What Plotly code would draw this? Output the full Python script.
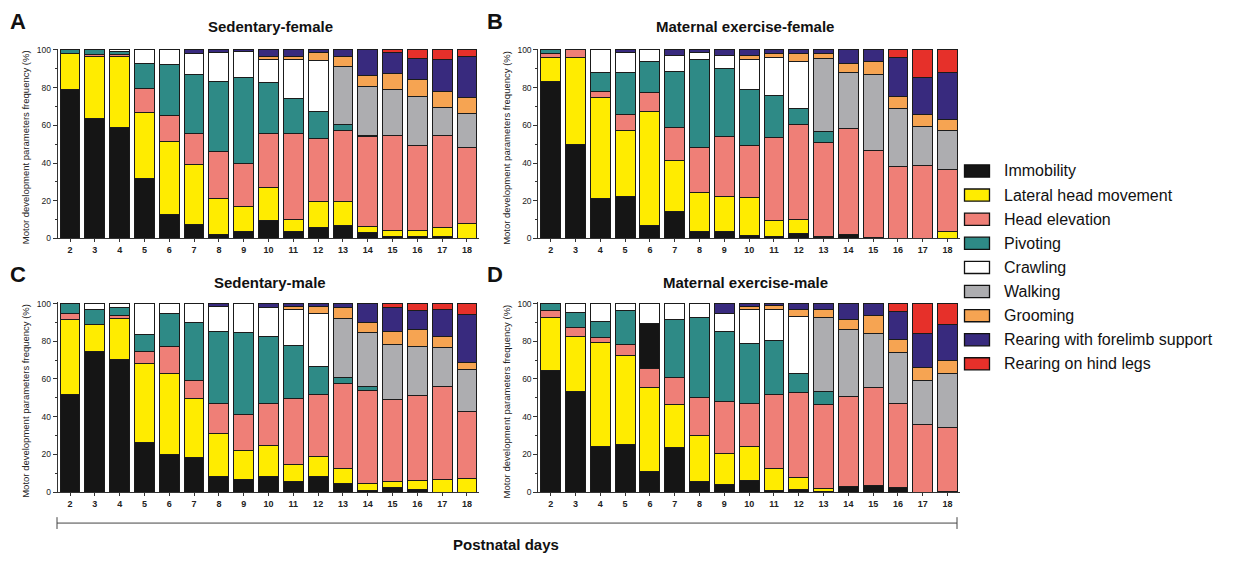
import plotly.graph_objects as go

W, H = 1244, 563

days = list(range(2, 19))
behaviours = [
    "Immobility", "Lateral head movement", "Head elevation", "Pivoting",
    "Crawling", "Walking", "Grooming", "Rearing with forelimb support",
    "Rearing on hind legs",
]
colors = ["#151515", "#FFEC00", "#EF7F77", "#2E8A86", "#FFFFFF",
          "#ADADB0", "#F6A452", "#382A7E", "#E6302A"]

# Sedentary-female (% of observations per postnatal day)
sf_immobility = [79, 63.5, 59, 32, 12.5, 7.5, 2, 3.5, 9.5, 3.5, 6, 7, 3, 1, 1, 1, 0]
sf_lateral = [19, 33, 37.5, 35, 39, 32, 19, 13.5, 17.5, 6.5, 13.5, 12.5, 3.5, 3.5, 3, 5, 8]
sf_head = [0, 1, 1, 12.5, 13.5, 16, 25, 23, 28.5, 45.5, 33.5, 38, 47.5, 50, 45.5, 48.5, 40.5]
sf_pivoting = [2, 2.5, 1.5, 13.5, 27, 31.5, 37, 45.5, 27, 18.5, 14.5, 3, 0.5, 0, 0, 0, 0]
sf_crawling = [0, 0, 1, 7, 8, 11, 15.5, 13.5, 12.5, 21, 27, 0, 0, 0, 0, 0, 0]
sf_walking = [0, 0, 0, 0, 0, 0, 0, 0, 0, 0, 0, 30.5, 26, 24.5, 26, 15, 18]
sf_grooming = [0, 0, 0, 0, 0, 0, 0, 0, 1.5, 1.5, 4, 5.5, 6, 8.5, 9, 8.5, 8.5]
sf_rear_fore = [0, 0, 0, 0, 0, 2, 1.5, 1, 3.5, 3.5, 1.5, 3.5, 13.5, 11, 11, 17, 21.5]
sf_rear_hind = [0, 0, 0, 0, 0, 0, 0, 0, 0, 0, 0, 0, 0, 1.5, 4.5, 5, 3.5]

# Maternal exercise-female
ef_immobility = [83.5, 50, 21, 22.5, 7, 14.5, 3.5, 3.5, 1.5, 1, 2.5, 0.5, 2, 0.5, 0, 0, 0]
ef_lateral = [12.5, 46, 54, 35, 60.5, 27, 21, 19, 20, 8.5, 7.5, 0.5, 0, 0, 0, 0, 3.5]
ef_head = [2, 4, 3, 8.5, 10, 17.5, 23.5, 31.5, 28, 44, 50.5, 50, 56.5, 46, 38, 38.5, 33]
ef_pivoting = [2, 0, 10, 22, 16.5, 29.5, 47, 36, 29.5, 22.5, 8.5, 5.5, 0, 0, 0, 0, 0]
ef_crawling = [0, 0, 12, 10.5, 6, 8.5, 3.5, 7, 16, 20, 25, 0, 0, 0, 0, 0, 0]
ef_walking = [0, 0, 0, 0, 0, 0, 0, 0, 0, 0, 0, 39, 29.5, 40.5, 31, 21, 20.5]
ef_grooming = [0, 0, 0, 0, 0, 0, 0, 0, 2, 2, 4, 2.5, 5, 7, 6.5, 6.5, 6]
ef_rear_fore = [0, 0, 0, 1.5, 0, 3, 1.5, 3, 3, 2, 2, 2, 7, 6, 20.5, 19.5, 25]
ef_rear_hind = [0, 0, 0, 0, 0, 0, 0, 0, 0, 0, 0, 0, 0, 0, 4, 14.5, 12]

# Sedentary-male
sm_immobility = [52, 74.5, 70.5, 26.5, 20, 18.5, 8.5, 6.5, 8.5, 5.5, 8, 4.5, 1, 2.5, 1.5, 0, 0]
sm_lateral = [39.5, 14.5, 21.5, 41.5, 43, 31, 22.5, 15.5, 16, 9, 11, 8, 3.5, 3, 4.5, 6.5, 7]
sm_head = [3, 0, 1.5, 6.5, 14, 9.5, 16, 19, 22.5, 35, 33, 45, 49.5, 43.5, 45, 49.5, 35.5]
sm_pivoting = [5.5, 8, 4.5, 9, 18, 31, 38, 43.5, 35.5, 28, 14.5, 3.5, 2, 0, 0, 0, 0]
sm_crawling = [0, 3, 2, 16.5, 5, 10, 13.5, 15.5, 15.5, 19.5, 28, 0, 0, 0, 0, 0, 0]
sm_walking = [0, 0, 0, 0, 0, 0, 0, 0, 0, 0, 0, 31, 28.5, 29.5, 26, 20.5, 22.5]
sm_grooming = [0, 0, 0, 0, 0, 0, 0, 0, 0, 1.5, 4, 6, 5.5, 6.5, 9, 6, 4]
sm_rear_fore = [0, 0, 0, 0, 0, 0, 1.5, 0, 2, 1.5, 1.5, 2, 10, 13, 10.5, 14.5, 25]
sm_rear_hind = [0, 0, 0, 0, 0, 0, 0, 0, 0, 0, 0, 0, 0, 2, 3.5, 3, 6]

# Maternal exercise-male
em_immobility = [64.5, 53.5, 24, 25.5, 11, 23.5, 5.5, 4, 6, 1, 1.5, 0.5, 3, 3.5, 2.5, 0, 0.5]
em_lateral = [28, 29, 55.5, 47, 44.5, 23, 24.5, 16.5, 18, 11.5, 6, 1.5, 0, 0, 0, 0, 0]
em_head = [4, 5, 2.5, 6, 10, 14.5, 20, 27.5, 23, 39.5, 45.5, 44.5, 47.5, 52, 44.5, 36, 34]
em_pivoting = [3.5, 8, 8.5, 18, 24, 30.5, 42.5, 37, 32, 28.5, 10, 7, 0, 0, 0, 0, 0]
em_crawling = [0, 4.5, 9.5, 3.5, 10.5, 8.5, 7.5, 9.5, 18, 16.5, 30, 0, 0, 0, 0, 0, 0]
em_walking = [0, 0, 0, 0, 0, 0, 0, 0, 0, 0, 0, 39, 36, 28.5, 27, 23, 28.5]
em_grooming = [0, 0, 0, 0, 0, 0, 0, 0, 1.5, 2, 4, 4.5, 5, 9.5, 7, 7, 7]
em_rear_fore = [0, 0, 0, 0, 0, 0, 0, 5.5, 1.5, 1, 3, 3, 8.5, 6.5, 15, 18, 19]
em_rear_hind = [0, 0, 0, 0, 0, 0, 0, 0, 0, 0, 0, 0, 0, 0, 4, 16, 11]

panels = [
    ("Sedentary-female", "A", "x", "y",
     [sf_immobility, sf_lateral, sf_head, sf_pivoting, sf_crawling,
      sf_walking, sf_grooming, sf_rear_fore, sf_rear_hind]),
    ("Maternal exercise-female", "B", "x2", "y2",
     [ef_immobility, ef_lateral, ef_head, ef_pivoting, ef_crawling,
      ef_walking, ef_grooming, ef_rear_fore, ef_rear_hind]),
    ("Sedentary-male", "C", "x3", "y3",
     [sm_immobility, sm_lateral, sm_head, sm_pivoting, sm_crawling,
      sm_walking, sm_grooming, sm_rear_fore, sm_rear_hind]),
    ("Maternal exercise-male", "D", "x4", "y4",
     [em_immobility, em_lateral, em_head, em_pivoting, em_crawling,
      em_walking, em_grooming, em_rear_fore, em_rear_hind]),
]

fig = go.Figure()
for title, letter, xa, ya, series in panels:
    for name, col, vals in zip(behaviours, colors, series):
        bar_colors = [col] * len(days)
        # day-6 pivoting segment in the exercise-male group is drawn in black
        if letter == "D" and name == "Pivoting":
            bar_colors[days.index(6)] = colors[0]
        fig.add_trace(go.Bar(
            x=days, y=[v if v else None for v in vals], name=name,
            xaxis=xa, yaxis=ya, showlegend=False,
            marker=dict(color=bar_colors, line=dict(color="#1b1b1b", width=1)),
        ))


def fx(px):
    return px / W


def fy(py):
    return 1 - py / H


x_left = [fx(57.6), fx(479.4)]
x_right = [fx(538.3), fx(960)]
y_top = [fy(238.3), fy(45.5)]
y_bot = [fy(496), fy(303.3)]

xcommon = dict(range=[1.5, 18.5], tickvals=days, ticks="outside", ticklen=3,
               tickcolor="#333", showline=True, linecolor="#333", linewidth=1,
               showgrid=False, zeroline=False, fixedrange=True,
               tickfont=dict(family="Liberation Sans Narrow, Liberation Sans, Arial",
                             size=9, color="#222", weight="bold"))
ycommon = dict(range=[0, 100.6], tickvals=[0, 20, 40, 60, 80, 100], ticks="outside",
               ticklen=4, tickcolor="#333", showline=True, linecolor="#333",
               linewidth=1, showgrid=False, zeroline=False,
               minor=dict(dtick=10, ticks="outside", ticklen=2, tickcolor="#333"),
               tickfont=dict(family="Liberation Sans, Arial", size=8.5, color="#222"))

fig.update_layout(
    width=W, height=H, margin=dict(l=0, r=0, t=0, b=0),
    paper_bgcolor="white", plot_bgcolor="white", barmode="stack", bargap=0.2,
    xaxis=dict(domain=x_left, anchor="y", **xcommon),
    yaxis=dict(domain=y_top, anchor="x", **ycommon),
    xaxis2=dict(domain=x_right, anchor="y2", **xcommon),
    yaxis2=dict(domain=y_top, anchor="x2", **ycommon),
    xaxis3=dict(domain=x_left, anchor="y3", **xcommon),
    yaxis3=dict(domain=y_bot, anchor="x3", **ycommon),
    xaxis4=dict(domain=x_right, anchor="y4", **xcommon),
    yaxis4=dict(domain=y_bot, anchor="x4", **ycommon),
    font=dict(family="Liberation Sans, Arial"),
)

ann = []
shapes = []
ytitle = "Motor development parameters frequency (%)"
layout_pos = {
    "A": (x_left, y_top, 18, 18, 270, 23),
    "B": (x_right, y_top, 495, 18, 745, 23),
    "C": (x_left, y_bot, 18, 275, 270, 283),
    "D": (x_right, y_bot, 495, 275, 745, 283),
}
for title, letter, xa, ya, series in panels:
    xd, yd, lx, ly, tx, ty = layout_pos[letter]
    ann.append(dict(text=f"<b>{letter}</b>", x=fx(lx), y=fy(ly), xref="paper",
                    yref="paper", showarrow=False, xanchor="center", yanchor="middle",
                    font=dict(size=22, color="#111")))
    ann.append(dict(text=f"<b>{title}</b>", x=fx(tx), y=fy(ty), xref="paper",
                    yref="paper", showarrow=False, xanchor="center", yanchor="middle",
                    font=dict(size=15, color="#111")))
    ann.append(dict(text=ytitle, textangle=-90, x=xd[0] - fx(32),
                    y=(yd[0] + yd[1]) / 2 + fx(0) - 4 / H,
                    xref="paper", yref="paper", showarrow=False, xanchor="center",
                    yanchor="middle", font=dict(size=9.5, color="#222")))

# legend built from swatches and labels
for i, (name, col) in enumerate(zip(behaviours, colors)):
    cy = 169.7 + i * 24.5
    shapes.append(dict(type="rect", xref="paper", yref="paper",
                       x0=fx(964.5), x1=fx(989.5), y0=fy(cy + 6.2), y1=fy(cy - 6.2),
                       fillcolor=col, line=dict(color="#111", width=1.3)))
    ann.append(dict(text=name, x=fx(1002), y=fy(cy), xref="paper", yref="paper",
                    showarrow=False, xanchor="left", yanchor="middle",
                    font=dict(size=16, color="#111")))

# bracket spanning both panel columns
by = 527.5
shapes.append(dict(type="line", xref="paper", yref="paper", x0=fx(57), x1=fx(957),
                   y0=fy(by), y1=fy(by), line=dict(color="#444", width=1)))
for bx in (57, 957):
    shapes.append(dict(type="line", xref="paper", yref="paper", x0=fx(bx), x1=fx(bx),
                       y0=fy(by - 6), y1=fy(by + 6), line=dict(color="#444", width=1)))
ann.append(dict(text="<b>Postnatal days</b>", x=fx(506), y=fy(549), xref="paper",
                yref="paper", showarrow=False, xanchor="center", yanchor="middle",
                font=dict(size=15, color="#111")))

fig.update_layout(annotations=ann, shapes=shapes)
fig.write_html("out.html")
